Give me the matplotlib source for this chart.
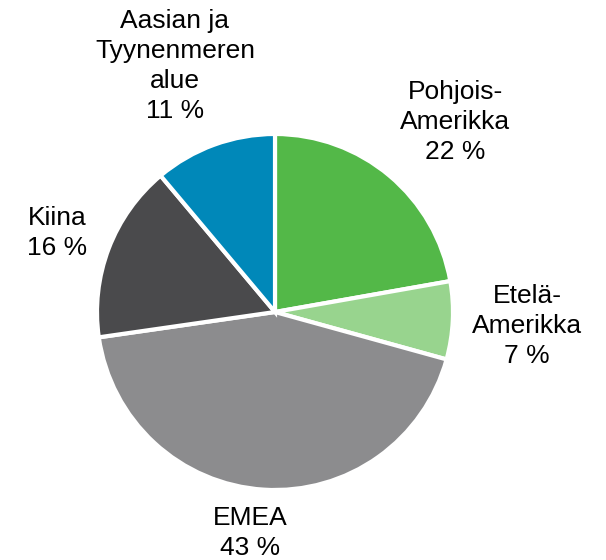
import matplotlib
matplotlib.use("Agg")
import matplotlib.pyplot as plt

regions = ["Pohjois-\nAmerikka", "Etelä-\nAmerikka", "EMEA", "Kiina", "Aasian ja\nTyynenmeren\nalue"]
shares = [22, 7, 43, 16, 11]
colors = ["#53B848", "#98D48E", "#8C8C8E", "#4A4A4C", "#0088B9"]
label_pos = [(455, 122), (527, 326), (250, 533), (57, 233), (175, 66)]

W, H = 606, 560
fig = plt.figure(figsize=(W / 100, H / 100), dpi=100)
ax = fig.add_axes([0, 0, 1, 1])

cx, cy, r = 275, H - 312, 178
ax.pie(shares, colors=colors, startangle=90, counterclock=False,
       center=(cx, cy), radius=r, frame=True,
       wedgeprops=dict(edgecolor="white", linewidth=3))
ax.set_xlim(0, W)
ax.set_ylim(0, H)
ax.set_aspect("equal")
ax.axis("off")

for name, val, (px, py) in zip(regions, shares, label_pos):
    ax.text(px, H - py, f"{name}\n{val} %", ha="center", va="center",
            fontsize=19, family="Liberation Sans", color="black",
            linespacing=1.32)

fig.savefig("out.png", dpi=100)
